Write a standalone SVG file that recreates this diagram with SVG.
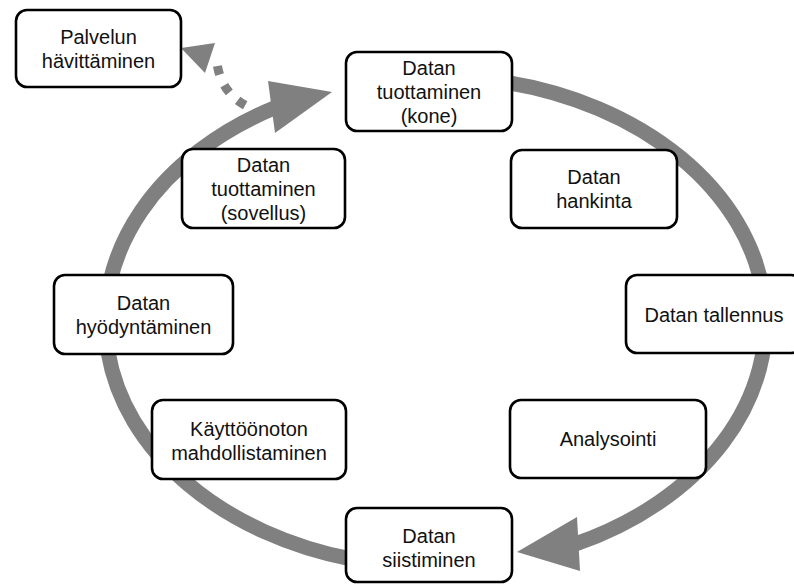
<svg xmlns="http://www.w3.org/2000/svg" width="794" height="584" viewBox="0 0 794 584">
  <style>
    .box rect { fill: #ffffff; stroke: #000000; stroke-width: 2.6; }
    .box text { font-family: "Liberation Sans", Arial, sans-serif; font-size: 20px; fill: #111111; text-anchor: middle; }
    .ring { fill: none; stroke: #808080; stroke-width: 15; }
    .head { fill: #808080; }
    .dots { fill: none; stroke: #808080; stroke-width: 9; stroke-dasharray: 9 11.5; stroke-dashoffset: 18; }
  </style>

  <rect width="794" height="584" fill="#ffffff"/>

  <!-- lifecycle ring and the dotted exit -->
  <g id="connectors">
    <path class="ring" d="M 505 82.1 A 330 245.3 0 0 1 575 544.2"/>
    <polygon class="head" points="517,552 577,517 580,571"/>
    <path class="ring" d="M 352 559.2 A 330 245.3 0 0 1 275 107.6"/>
    <polygon class="head" points="332,92 268,81 275,133"/>
    <path class="dots" d="M 247.5 106.5 Q 221 93 217 63"/>
    <polygon class="head" points="181,48 215,43 205,73"/>
  </g>

  <g id="palvelun-havittaminen" class="box">
    <rect x="16" y="10" width="165" height="77" rx="11"/>
    <text x="98.5" y="44">Palvelun</text>
    <text x="98.5" y="68">hävittäminen</text>
  </g>

  <g id="tuottaminen-kone" class="box">
    <rect x="346" y="52" width="166" height="79" rx="11"/>
    <text x="429" y="75">Datan</text>
    <text x="429" y="99">tuottaminen</text>
    <text x="429" y="123">(kone)</text>
  </g>

  <g id="tuottaminen-sovellus" class="box">
    <rect x="182" y="149" width="163" height="79" rx="11"/>
    <text x="263.5" y="172">Datan</text>
    <text x="263.5" y="196">tuottaminen</text>
    <text x="263.5" y="220">(sovellus)</text>
  </g>

  <g id="hankinta" class="box">
    <rect x="511" y="150" width="166" height="78" rx="11"/>
    <text x="594" y="184">Datan</text>
    <text x="594" y="208">hankinta</text>
  </g>

  <g id="hyodyntaminen" class="box">
    <rect x="54" y="275" width="179" height="79" rx="11"/>
    <text x="143.5" y="310">Datan</text>
    <text x="143.5" y="334">hyödyntäminen</text>
  </g>

  <g id="tallennus" class="box">
    <rect x="626" y="275" width="176" height="78" rx="11"/>
    <text x="714" y="322">Datan tallennus</text>
  </g>

  <g id="kayttoonotto" class="box">
    <rect x="152" y="400" width="194" height="79" rx="11"/>
    <text x="249" y="436">Käyttöönoton</text>
    <text x="249" y="460">mahdollistaminen</text>
  </g>

  <g id="analysointi" class="box">
    <rect x="510" y="400" width="196" height="78" rx="11"/>
    <text x="608" y="446">Analysointi</text>
  </g>

  <g id="siistiminen" class="box">
    <rect x="346" y="508" width="166" height="74" rx="11"/>
    <text x="429" y="543">Datan</text>
    <text x="429" y="567">siistiminen</text>
  </g>
</svg>
